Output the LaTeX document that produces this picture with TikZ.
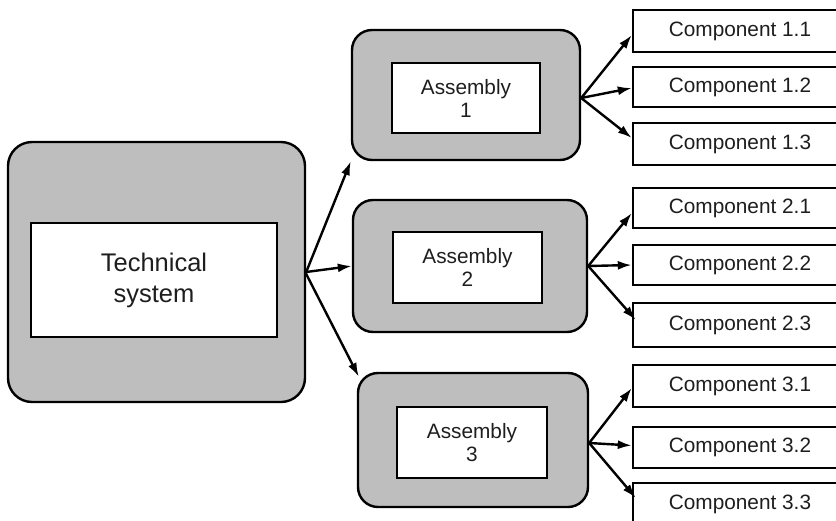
\documentclass[tikz,border=0pt]{standalone}
\usepackage{fontspec}
\setmainfont{Liberation Sans}
\usetikzlibrary{arrows.meta}
\definecolor{boxgray}{RGB}{190,190,190}
\definecolor{txt}{RGB}{30,30,30}
\begin{document}
\begin{tikzpicture}[x=1pt,y=-1pt,
  outerbox/.style={draw=black,line width=2.4pt,fill=boxgray,rounded corners=20pt,inner sep=0pt},
  innerbox/.style={draw=black,line width=2.4pt,fill=white,inner sep=0pt,align=center,text=txt},
  compbox/.style={draw=black,line width=2.4pt,fill=white,inner sep=0pt,minimum width=214pt,text=txt,font=\fontsize{20.8}{23}\selectfont},
  arr/.style={line width=2.4pt,-{Latex[length=14pt,width=9pt]}}]
\useasboundingbox (0,0) rectangle (836,520);
\clip (0,0) rectangle (836,520);
% main system
\node[outerbox,rounded corners=24pt,minimum width=297pt,minimum height=260pt] (TSo) at (156.5,272) {};
\node[innerbox,minimum width=246pt,minimum height=114pt,font=\fontsize{25.5}{31}\selectfont] (TSi) at (154,280) {Technical\\system};
% assemblies
\node[outerbox,minimum width=228pt,minimum height=130pt] (A1o) at (466,95) {};
\node[innerbox,minimum width=148pt,minimum height=70pt,font=\fontsize{20.8}{23}\selectfont] (A1i) at (466,98) {Assembly\\1};
\node[outerbox,minimum width=234pt,minimum height=132pt] (A2o) at (470,266) {};
\node[innerbox,minimum width=149pt,minimum height=71pt,font=\fontsize{20.8}{23}\selectfont] (A2i) at (467.5,267.5) {Assembly\\2};
\node[outerbox,minimum width=230pt,minimum height=134pt] (A3o) at (473,440) {};
\node[innerbox,minimum width=150pt,minimum height=71pt,font=\fontsize{20.8}{23}\selectfont] (A3i) at (472,442.5) {Assembly\\3};
% components
\node[compbox,minimum height=42pt] (C11) at (740,31) {Component 1.1};
\node[compbox,minimum height=40pt] (C12) at (740,87) {Component 1.2};
\node[compbox,minimum height=42pt] (C13) at (740,144) {Component 1.3};
\node[compbox,minimum height=40pt] (C21) at (740,208) {Component 2.1};
\node[compbox,minimum height=40pt] (C22) at (740,265) {Component 2.2};
\node[compbox,minimum height=44pt] (C23) at (740,325) {Component 2.3};
\node[compbox,minimum height=42pt] (C31) at (740,386) {Component 3.1};
\node[compbox,minimum height=41pt] (C32) at (740,447.5) {Component 3.2};
\node[compbox,minimum height=42pt] (C33) at (740,504) {Component 3.3};
% arrows from system
\draw[arr] (TSo.east) -- (A1o.south west);
\draw[arr] (TSo.east) -- (A2o.west);
\draw[arr] ([xshift=-1pt]TSo.east) -- ([xshift=2pt,yshift=-5pt]A3o.north west);
% arrows from assembly 1
\draw[arr] ([yshift=-3pt]A1o.east) -- ([yshift=-4pt]C11.west);
\draw[arr] ([yshift=-3pt]A1o.east) -- ([yshift=-1pt]C12.west);
\draw[arr] ([yshift=-3pt]A1o.east) -- ([yshift=6pt]C13.west);
% arrows from assembly 2
\draw[arr] (A2o.east) -- ([yshift=-5pt]C21.west);
\draw[arr] (A2o.east) -- (C22.west);
\draw[arr] (A2o.east) -- ([xshift=4pt,yshift=5pt]C23.west);
% arrows from assembly 3
\draw[arr] ([yshift=-3pt]A3o.east) -- ([yshift=-2pt]C31.west);
\draw[arr] ([yshift=-3pt]A3o.east) -- ([yshift=2pt]C32.west);
\draw[arr] ([yshift=-3pt]A3o.east) -- ([xshift=4pt,yshift=6pt]C33.west);
\end{tikzpicture}
\end{document}
